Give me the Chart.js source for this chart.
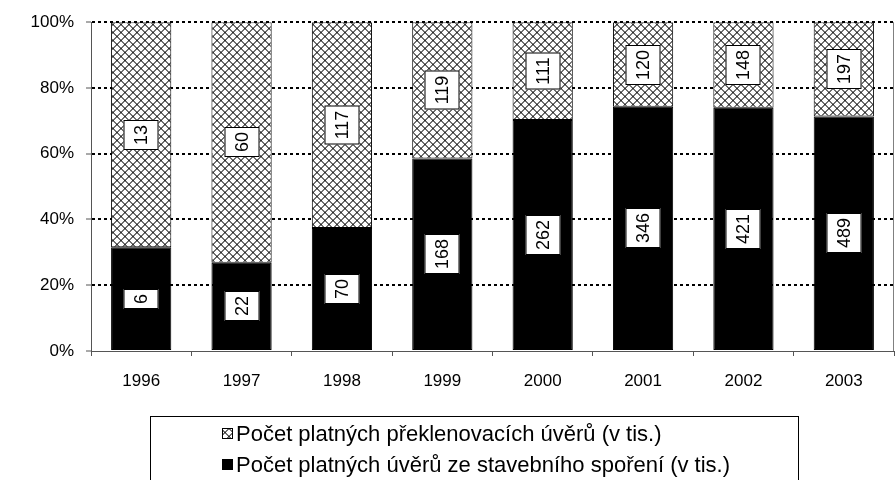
<!DOCTYPE html>
<html>
<head>
<meta charset="utf-8">
<script src="https://cdn.jsdelivr.net/npm/chart.js@4/dist/chart.umd.min.js"></script>
<style>
  html, body { margin: 0; padding: 0; background: #fff; }
  #wrap { width: 895px; height: 480px; position: relative; }
</style>
</head>
<body>
<div id="wrap"><canvas id="c" width="895" height="480"></canvas></div>
<script>
// ---- data ----
const years = ['1996', '1997', '1998', '1999', '2000', '2001', '2002', '2003'];
const uverySS = [6, 22, 70, 168, 262, 346, 421, 489];          // Počet platných úvěrů ze stavebního spoření (v tis.)
const preklenovaci = [13, 60, 117, 119, 111, 120, 148, 197];    // Počet platných překlenovacích úvěrů (v tis.)
const yTicks = [0, 20, 40, 60, 80, 100];
const labelSS = 'Počet platných úvěrů ze stavebního spoření (v tis.)';
const labelPr = 'Počet platných překlenovacích úvěrů (v tis.)';

const totals = years.map((_, i) => uverySS[i] + preklenovaci[i]);
const pctSS = uverySS.map((v, i) => v / totals[i] * 100);
const pctPr = preklenovaci.map((v, i) => v / totals[i] * 100);

const FONT = "'Liberation Sans', Arial, sans-serif";

// hatch pattern (diagonal cross-hatch)
function makePattern() {
  const N = 8;
  const t = document.createElement('canvas');
  t.width = N; t.height = N;
  const g = t.getContext('2d');
  g.fillStyle = '#ffffff';
  g.fillRect(0, 0, N, N);
  for (let y = 0; y < N; y++) {
    for (let x = 0; x < N; x++) {
      const d1 = (x + y) % N;
      const d2 = ((x - y) % N + N) % N;
      const on1 = d1 === 0 || d1 === 1;
      const on2 = d2 === 0 || d2 === 1;
      if (on1 && on2) { g.fillStyle = '#303030'; g.fillRect(x, y, 1, 1); }
      else if (on1 || on2) { g.fillStyle = '#707070'; g.fillRect(x, y, 1, 1); }
    }
  }
  return g.createPattern(t, 'repeat');
}
const ctx0 = document.getElementById('c').getContext('2d');
const hatch = makePattern();

const rawValues = [uverySS, preklenovaci];

const labelPlugin = {
  id: 'boxLabels',
  afterDatasetsDraw(chart) {
    const c = chart.ctx;
    c.save();
    c.font = '18px ' + FONT;
    c.textAlign = 'center';
    c.textBaseline = 'middle';
    chart.data.datasets.forEach((ds, di) => {
      const meta = chart.getDatasetMeta(di);
      meta.data.forEach((el, i) => {
        const txt = String(rawValues[di][i]);
        const cx = el.x;
        const cy = (el.y + el.base) / 2;
        const tw = c.measureText(txt).width;
        const along = Math.round(tw + 10);
        const across = 35;
        c.save();
        c.translate(Math.round(cx), Math.round(cy));
        c.rotate(-Math.PI / 2);
        c.fillStyle = '#fff';
        c.fillRect(-along / 2, -across / 2, along, across);
        c.strokeStyle = '#000';
        c.lineWidth = 1;
        c.strokeRect(-along / 2 + 0.5, -across / 2 + 0.5, along - 1, across - 1);
        c.fillStyle = '#000';
        c.fillText(txt, 0, 1);
        c.restore();
      });
    });
    c.restore();
  }
};

const framePlugin = {
  id: 'frameLegend',
  afterDraw(chart) {
    const c = chart.ctx;
    const a = chart.chartArea;
    c.save();
    // right border line
    c.strokeStyle = '#808080';
    c.lineWidth = 1;
    c.beginPath();
    c.moveTo(Math.round(a.right) - 0.5, a.top);
    c.lineTo(Math.round(a.right) - 0.5, a.bottom);
    c.stroke();
    // legend box
    c.strokeStyle = '#000';
    c.strokeRect(150.5, 416.5, 648, 70);
    const items = [
      { text: labelPr, fill: hatch, y: 434 },
      { text: labelSS, fill: '#000', y: 465 }
    ];
    c.font = '22px ' + FONT;
    c.textBaseline = 'middle';
    c.textAlign = 'left';
    items.forEach(it => {
      c.fillStyle = it.fill;
      c.fillRect(222, it.y - 6, 11, 11);
      c.strokeStyle = '#000';
      c.strokeRect(222.5, it.y - 5.5, 10, 10);
      c.fillStyle = '#000';
      c.fillText(it.text, 236, it.y + 1);
    });
    c.restore();
  }
};

new Chart(ctx0, {
  type: 'bar',
  data: {
    labels: years,
    datasets: [
      {
        label: labelSS,
        data: pctSS,
        backgroundColor: '#000',
        borderColor: '#000',
        borderWidth: 1,
        borderSkipped: false,
        barPercentage: 0.6,
        categoryPercentage: 1.0
      },
      {
        label: labelPr,
        data: pctPr,
        backgroundColor: hatch,
        borderColor: '#000',
        borderWidth: 1,
        borderSkipped: false,
        barPercentage: 0.6,
        categoryPercentage: 1.0
      }
    ]
  },
  options: {
    responsive: false,
    animation: false,
    layout: { padding: { top: 10.8, right: 1, bottom: 0, left: 0 } },
    plugins: {
      legend: { display: false },
      tooltip: { enabled: false }
    },
    scales: {
      x: {
        stacked: true,
        afterFit(s) { s.height = 129; },
        grid: {
          display: true,
          offset: true,
          drawOnChartArea: false,
          drawTicks: true,
          tickLength: 5,
          tickColor: '#555',
          tickWidth: 1
        },
        border: { display: true, color: '#555', width: 1 },
        ticks: {
          color: '#000',
          font: { family: FONT, size: 17 },
          padding: 15,
          maxRotation: 0
        }
      },
      y: {
        stacked: true,
        min: 0,
        max: 100,
        afterFit(s) { s.width = 91; },
        afterBuildTicks(s) { s.ticks = yTicks.map(v => ({ value: v })); },
        grid: {
          color: ctx => (ctx.tick && ctx.tick.value === 0) ? 'rgba(0,0,0,0)' : '#000',
          lineWidth: 2,
          drawTicks: true,
          tickLength: 5,
          tickColor: '#555',
          tickWidth: 1,
          tickBorderDash: []
        },
        border: { display: true, color: '#555', width: 1, dash: [3, 3] },
        ticks: {
          color: '#000',
          font: { family: FONT, size: 17 },
          padding: 12,
          callback: v => v + '%'
        }
      }
    }
  },
  plugins: [labelPlugin, framePlugin]
});
</script>
</body>
</html>
